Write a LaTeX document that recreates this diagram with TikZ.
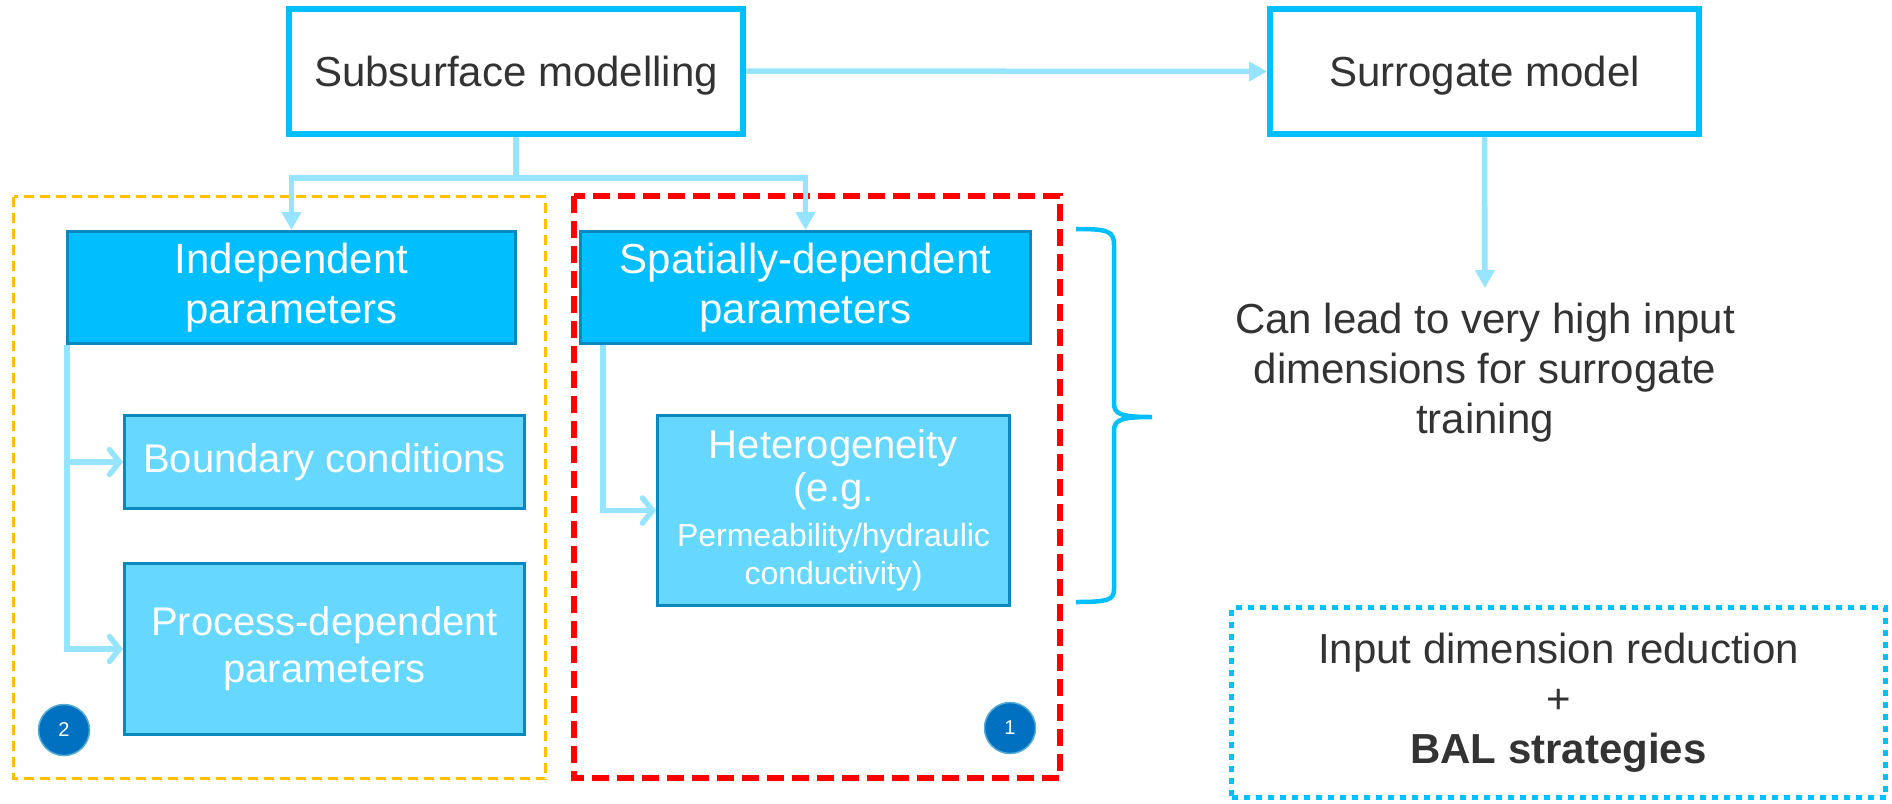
\documentclass[tikz,border=0pt]{standalone}
\usepackage{fontspec}
\setmainfont{Liberation Sans}
\usetikzlibrary{arrows.meta}
\definecolor{skyline}{RGB}{0,191,255}
\definecolor{linkblue}{RGB}{150,228,255}
\definecolor{boxdark}{RGB}{0,190,255}
\definecolor{boxlight}{RGB}{102,216,255}
\definecolor{boxedge}{RGB}{10,136,192}
\definecolor{textgray}{RGB}{51,51,51}
\definecolor{amber}{RGB}{255,192,0}
\definecolor{badgeblue}{RGB}{0,112,192}
\begin{document}
\begin{tikzpicture}[x=1pt,y=-1pt,
        topbox/.style={draw=skyline,line width=6pt,text=textgray,minimum height=125pt,
            text height=30pt,text depth=0pt,font=\fontsize{42}{50}\selectfont},
        parambox/.style={draw=boxedge,line width=3pt,fill=boxdark,text=white,align=center,
            minimum height=112pt,font=\fontsize{42}{50}\selectfont},
        subbox/.style={draw=boxedge,line width=3pt,fill=boxlight,text=white,align=center,
            minimum width=400pt,font=\fontsize{40}{47}\selectfont},
        link/.style={draw=linkblue,line width=5.5pt},
        fillhead/.style={link,-{Triangle[length=18pt,width=19pt]}},
        openhead/.style={link,-{Straight Barb[length=10pt,width=25pt,line cap=round]}},
        badge/.style={circle,draw=boxedge!70,line width=1.5pt,fill=badgeblue,text=white,
            minimum size=51pt,inner sep=0pt,font=\fontsize{20}{20}\selectfont}]
    \useasboundingbox (0,0) rectangle (1892,803);

    \draw[amber,line width=3.5pt,dash pattern=on 10pt off 6pt] (13.5,196.5) rectangle (545.5,778.5);
    \draw[red,line width=6pt,dash pattern=on 17pt off 8pt] (574,196) rectangle (1060,778);

    \node[topbox,minimum width=454pt] (subsurf) at (516,71) {Subsurface modelling};
    \node[topbox,minimum width=429pt] (surrogate) at (1484.5,71.5) {Surrogate model};

    \node[parambox,minimum width=448pt] (indep) at (291.5,287.5) {Independent\\parameters};
    \node[parambox,minimum width=450pt] (spatial) at (805.5,287.5) {Spatially-dependent\\parameters};

    \node[subbox,minimum height=93pt] (bound) at (324.5,462) {Boundary conditions};
    \node[subbox,minimum height=171pt] (proc) at (324.5,649) {Process-dependent\\parameters};
    \node[subbox,minimum width=352pt,minimum height=190pt] (hetero) at (833.5,510.5)
        {Heterogeneity\\[-4pt](e.g.\\[-2pt]\fontsize{32}{37}\selectfont Permeability/hydraulic\\[-9pt]\fontsize{32}{37}\selectfont conductivity)};

    \node[badge] (two) at (64,730) {2};
    \node[badge] (one) at (1010,728) {1};

    \node[anchor=north,align=center,text=textgray,inner xsep=0pt,inner ysep=15pt,
        font=\fontsize{42}{50}\selectfont] (lead) at (1485,288)
        {Can lead to very high input\\dimensions for surrogate\\training};

    \node[draw=skyline,line width=5pt,dash pattern=on 6pt off 6pt,minimum width=654pt,
        minimum height=190pt,align=center,text=textgray,font=\fontsize{42}{50}\selectfont]
        (reduce) at (1558.5,702.5) {Input dimension reduction\\+\\\textbf{BAL strategies}};

    \draw[fillhead] (subsurf.east) -- (surrogate.west);
    \draw[link] (subsurf.south) -- (516,178) coordinate (split);
    \draw[fillhead] (split) -| (indep.north);
    \draw[fillhead] (split) -| (spatial.north);
    \draw[openhead] ([xshift=1pt]indep.south west) |- (bound.west);
    \draw[openhead] ([xshift=1pt]indep.south west) |- (proc.west);
    \draw[openhead] ([xshift=24pt]spatial.south west) |- (hetero.west);
    \draw[fillhead] (surrogate.south) -- (lead.north);

    \draw[skyline,line width=4.5pt] (1076,229) .. controls (1108,229) and (1114,231) .. (1114,245)
        -- (1114,403) .. controls (1114,414) and (1120,417) .. (1152,417)
        .. controls (1120,417) and (1114,420) .. (1114,431)
        -- (1114,589) .. controls (1114,600) and (1108,602) .. (1076,602);
\end{tikzpicture}
\end{document}
